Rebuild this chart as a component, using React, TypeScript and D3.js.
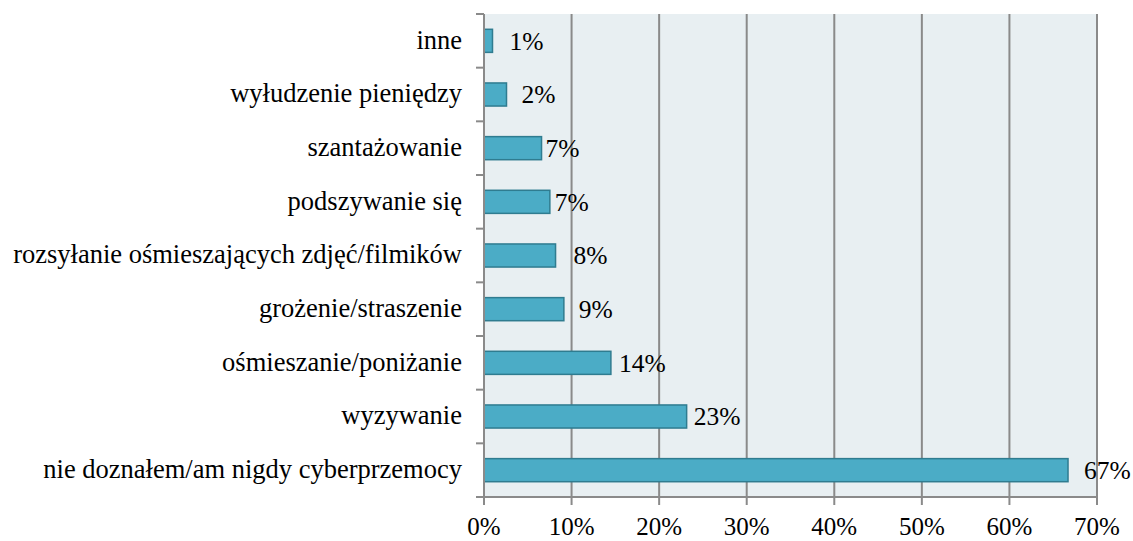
import React from "react";
import * as d3 from "d3";

const categories = [
  "inne",
  "wyłudzenie pieniędzy",
  "szantażowanie",
  "podszywanie się",
  "rozsyłanie ośmieszających zdjęć/filmików",
  "grożenie/straszenie",
  "ośmieszanie/poniżanie",
  "wyzywanie",
  "nie doznałem/am nigdy cyberprzemocy",
];
const values = [0.97, 2.57, 6.57, 7.52, 8.17, 9.12, 14.49, 23.14, 66.69];
const valueLabels = ["1%", "2%", "7%", "7%", "8%", "9%", "14%", "23%", "67%"];
const labelGap = [17, 15, 4, 5, 18, 15, 8, 7, 16];
const xTicks = [0, 10, 20, 30, 40, 50, 60, 70];

const W = 1133;
const H = 541;
const margin = { left: 484, right: 36, top: 14, bottom: 44 };
const FONT = "Liberation Serif, Times New Roman, serif";

export default function App() {
  const x = d3.scaleLinear().domain([0, 70]).range([margin.left, W - margin.right]);
  const y = d3
    .scaleBand<string>()
    .domain(categories)
    .range([margin.top, H - margin.bottom])
    .paddingInner(0.57)
    .paddingOuter(0.285);
  const bandStep = y.step();
  const plotTop = margin.top;
  const plotBottom = H - margin.bottom;

  return (
    <svg
      width={W}
      height={H}
      style={{ position: "absolute", left: 0, top: 0, display: "block", fontFamily: FONT }}
    >
      <rect x={0} y={0} width={W} height={H} fill="#ffffff" />
      <rect
        x={x(0)}
        y={plotTop}
        width={x(70) - x(0)}
        height={plotBottom - plotTop}
        fill="#E8EFF2"
      />
      {xTicks.slice(1).map((t) => (
        <line
          key={"g" + t}
          x1={x(t)}
          x2={x(t)}
          y1={plotTop}
          y2={plotBottom}
          stroke="#8a8a8a"
          strokeWidth={2}
        />
      ))}
      {categories.map((c, i) => (
        <g key={c}>
          <rect
            x={x(0)}
            y={y(c)!}
            width={x(values[i]) - x(0)}
            height={y.bandwidth()}
            fill="#4BACC6"
            stroke="#2F7C90"
            strokeWidth={1.5}
          />
          <text
            x={x(values[i]) + labelGap[i]}
            y={y(c)! + y.bandwidth() / 2}
            dy="0.35em"
            fontSize={25.5}
            fill="#000"
          >
            {valueLabels[i]}
          </text>
          <text
            x={x(0) - 22}
            y={y(c)! + y.bandwidth() / 2}
            dy="0.3em"
            fontSize={26.5}
            textAnchor="end"
            fill="#000"
          >
            {c}
          </text>
        </g>
      ))}
      {/* left axis */}
      <line x1={x(0)} x2={x(0)} y1={plotTop} y2={plotBottom} stroke="#8a8a8a" strokeWidth={2} />
      {d3.range(categories.length + 1).map((i) => (
        <line
          key={"yt" + i}
          x1={x(0) - 8}
          x2={x(0)}
          y1={plotTop + i * bandStep}
          y2={plotTop + i * bandStep}
          stroke="#8a8a8a"
          strokeWidth={2}
        />
      ))}
      {/* bottom axis */}
      <line x1={x(0) - 8} x2={x(70)} y1={plotBottom} y2={plotBottom} stroke="#8a8a8a" strokeWidth={2} />
      {xTicks.map((t) => (
        <g key={"xt" + t}>
          <line x1={x(t)} x2={x(t)} y1={plotBottom} y2={plotBottom + 8} stroke="#8a8a8a" strokeWidth={2} />
          <text x={x(t)} y={plotBottom + 38} fontSize={25} textAnchor="middle" fill="#000">
            {t + "%"}
          </text>
        </g>
      ))}
    </svg>
  );
}
